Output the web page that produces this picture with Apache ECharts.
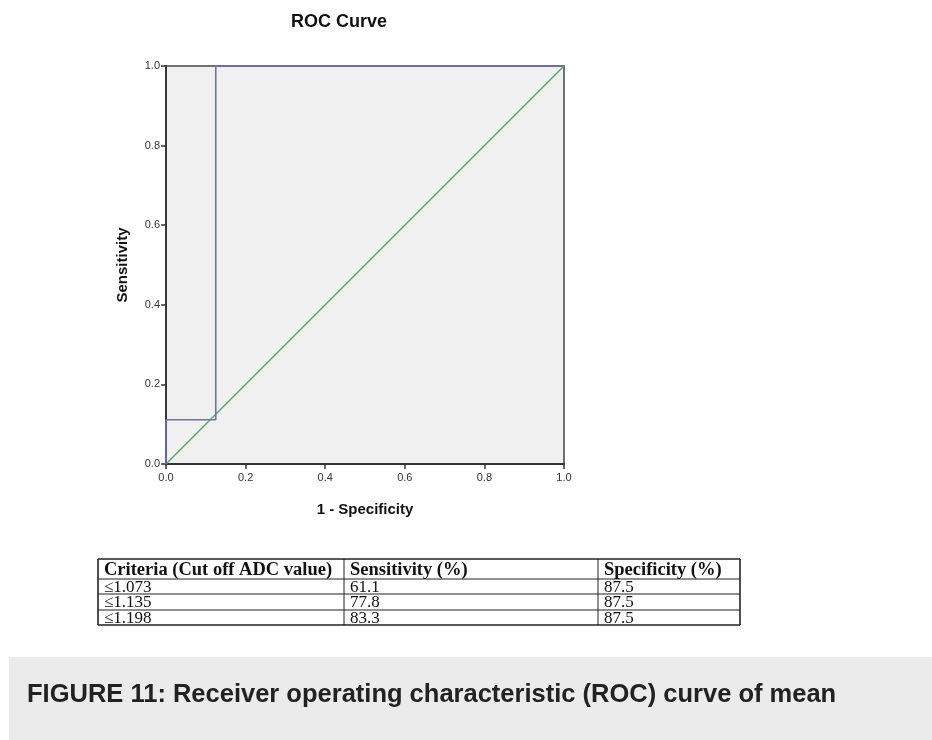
<!DOCTYPE html>
<html>
<head>
<meta charset="utf-8">
<style>
html,body{margin:0;padding:0;background:#fff;}
#chart{width:932px;height:740px;}
</style>
<script src="https://cdn.jsdelivr.net/npm/echarts@6/dist/echarts.min.js"></script>
</head>
<body>
<div id="chart"></div>
<script>
// ---- data ----
var chartTitle = "ROC Curve";
var xAxisName = "1 - Specificity";
var yAxisName = "Sensitivity";
var rocFpr = [0, 0, 0.125, 0.125, 1];
var rocTpr = [0, 0.111, 0.111, 1, 1];
var refFpr = [0, 1];
var refTpr = [0, 1];
var tableHeader = ["Criteria (Cut off ADC value)", "Sensitivity (%)", "Specificity (%)"];
var tableCriteria = ["\u22641.073", "\u22641.135", "\u22641.198"];
var tableSensitivity = ["61.1", "77.8", "83.3"];
var tableSpecificity = ["87.5", "87.5", "87.5"];
var captionText = "FIGURE 11: Receiver operating characteristic (ROC) curve of mean";

// ---- layout ----
var colX = [98, 344, 598, 740];
var rowY = [559, 579, 594, 610, 625];

function zip(a, b) { return a.map(function (v, i) { return [v, b[i]]; }); }

var graphics = [];
// caption band
graphics.push({ type: 'rect', shape: { x: 9, y: 657, width: 923, height: 83 }, style: { fill: '#ebebeb' }, silent: true });
graphics.push({ type: 'text', x: 27, y: 695, style: { text: captionText, verticalAlign: 'middle', textVerticalAlign: 'middle', font: 'bold 25.5px "Liberation Sans", Arial, sans-serif', fill: '#222' } });

// table lines
for (var r = 0; r < rowY.length; r++) {
  graphics.push({ type: 'line', shape: { x1: colX[0], y1: rowY[r], x2: colX[3], y2: rowY[r] }, style: { stroke: '#222', lineWidth: (r === 0 || r === rowY.length - 1) ? 1.6 : 1 } });
}
for (var c = 0; c < colX.length; c++) {
  graphics.push({ type: 'line', shape: { x1: colX[c], y1: rowY[0], x2: colX[c], y2: rowY[rowY.length - 1] }, style: { stroke: '#222', lineWidth: (c === 0 || c === colX.length - 1) ? 1.6 : 1 } });
}
var rowsData = [tableHeader].concat(tableCriteria.map(function (v, i) { return [v, tableSensitivity[i], tableSpecificity[i]]; }));
rowsData.forEach(function (row, ri) {
  var cy = (rowY[ri] + rowY[ri + 1]) / 2;
  row.forEach(function (txt, ci) {
    graphics.push({
      type: 'text', x: colX[ci] + 6, y: cy + 1,
      style: {
        text: txt, textVerticalAlign: 'middle', verticalAlign: 'middle',
        font: (ri === 0 ? 'bold 18.5px ' : '17px ') + '"Liberation Serif", "Times New Roman", serif',
        fill: '#111'
      }
    });
  });
});

var chart = echarts.init(document.getElementById('chart'), null, { renderer: 'canvas' });
chart.setOption({
  backgroundColor: '#ffffff',
  animation: false,
  title: {
    text: chartTitle, left: 334, top: 8, textAlign: 'center',
    textStyle: { fontFamily: '"Liberation Sans", Arial, sans-serif', fontWeight: 'bold', fontSize: 18, color: '#111' }
  },
  grid: { left: 166, top: 66, width: 398, height: 398, show: true, backgroundColor: '#f0f0f0', borderColor: '#444', borderWidth: 1.5 },
  xAxis: {
    type: 'value', min: 0, max: 1, interval: 0.2,
    name: xAxisName, nameLocation: 'middle', nameGap: 38,
    nameTextStyle: { fontFamily: '"Liberation Sans", Arial, sans-serif', fontWeight: 'bold', fontSize: 15, color: '#111' },
    axisLine: { show: true, onZero: false, lineStyle: { color: '#333', width: 1.8 } },
    axisTick: { show: true, length: 5, lineStyle: { color: '#333', width: 1.5 } },
    axisLabel: { margin: 8, fontFamily: '"Liberation Sans", Arial, sans-serif', fontSize: 11, color: '#333', formatter: function (v) { return v.toFixed(1); } },
    splitLine: { show: false }
  },
  yAxis: {
    type: 'value', min: 0, max: 1, interval: 0.2,
    name: yAxisName, nameLocation: 'middle', nameGap: 36,
    nameTextStyle: { fontFamily: '"Liberation Sans", Arial, sans-serif', fontWeight: 'bold', fontSize: 15, color: '#111' },
    axisLine: { show: true, onZero: false, lineStyle: { color: '#333', width: 1.8 } },
    axisTick: { show: true, length: 5, lineStyle: { color: '#333', width: 1.5 } },
    axisLabel: { margin: 6, fontFamily: '"Liberation Sans", Arial, sans-serif', fontSize: 11, color: '#333', formatter: function (v) { return v.toFixed(1); } },
    splitLine: { show: false }
  },
  series: [
    {
      type: 'line', data: zip(refFpr, refTpr), showSymbol: false, symbol: 'none',
      lineStyle: { color: '#4fae5c', width: 1.5 }, silent: true, z: 2
    },
    {
      type: 'line', data: zip(rocFpr, rocTpr), showSymbol: false, symbol: 'none',
      lineStyle: { color: '#6d72b6', width: 1.6 }, silent: true, z: 3
    }
  ],
  graphic: graphics
});
</script>
</body>
</html>
